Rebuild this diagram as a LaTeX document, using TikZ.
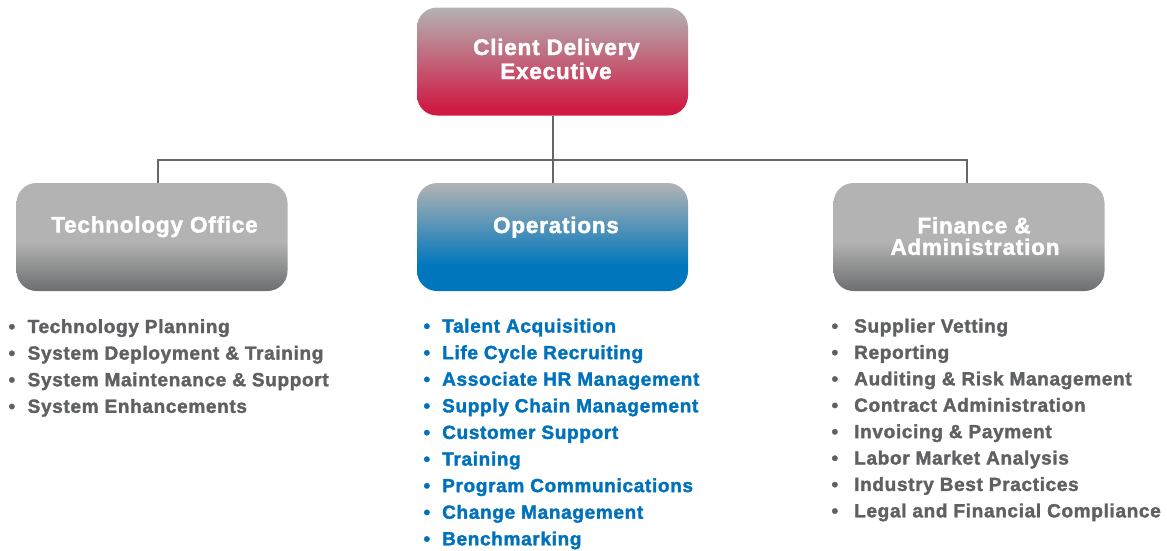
\documentclass[tikz,border=0pt]{standalone}
\usepackage{fontspec}
\setmainfont{Liberation Sans}[LetterSpace=3.5, BoldFeatures={FakeBold=1.8}]
\definecolor{lgray}{HTML}{B3B3B3}
\definecolor{dgray}{HTML}{6D6E70}
\definecolor{cred}{HTML}{CF1A43}
\definecolor{cblue}{HTML}{0077BD}
\definecolor{tgray}{HTML}{5F6062}
\definecolor{tblue}{HTML}{0071BB}
\definecolor{lcol}{HTML}{666666}
\pgfdeclareverticalshading{redsh}{100bp}{color(0bp)=(cred);color(28bp)=(cred);color(75bp)=(lgray);color(100bp)=(lgray)}
\pgfdeclareverticalshading{bluesh}{100bp}{color(0bp)=(cblue);color(37bp)=(cblue);color(75bp)=(lgray);color(100bp)=(lgray)}
\pgfdeclareverticalshading{graysh}{100bp}{color(0bp)=(dgray);color(25bp)=(dgray);color(48bp)=(lgray);color(100bp)=(lgray)}
\tikzset{
  boxst/.style={rounded corners=20pt, minimum width=271pt, minimum height=108pt, inner sep=0pt, draw=none},
  titlest/.style={anchor=base, inner sep=0pt, text=white, font=\fontsize{22.5}{22.5}\selectfont\bfseries},
  itemst/.style={anchor=base west, inner sep=0pt, font=\fontsize{19}{19}\selectfont\bfseries},
  conn/.style={draw=lcol, line width=2pt}
}
\begin{document}
\begin{tikzpicture}[x=1pt,y=-1pt]
\useasboundingbox (0,0) rectangle (1167,550);
% boxes
\node[boxst, shading=redsh] (cde) at (552.5,61.5) {};
\node[boxst, shading=graysh] (tech) at (152,237) {};
\node[boxst, shading=bluesh] (ops) at (552.5,237) {};
\node[boxst, shading=graysh] (fin) at (969,237) {};
% connectors
\coordinate (j) at (552.5,160);
\draw[conn] (cde.south) -- (ops.north);
\draw[conn] ([xshift=5.5pt]tech.north) -- ([xshift=5.5pt]tech.north |- j) -- ([xshift=-2pt]fin.north |- j) -- ([xshift=-2pt]fin.north);
% titles
\node[titlest] (cde1) at (556.5,55) {Client Delivery};
\node[titlest] (cde2) at (556,79) {Executive};
\node[titlest] (techt) at (154.5,232.5) {Technology Office};
\node[titlest] (opst) at (556,233) {Operations};
\node[titlest] (fint1) at (974,233.3) {Finance \&};
\node[titlest] (fint2) at (975,254.8) {Administration};
% lists
\foreach \t [count=\i from 0] in {Technology Planning, System Deployment \& Training, System Maintenance \& Support, System Enhancements}
  \node[itemst, text=tgray] (ta\i) at (27.5,333+26.6*\i) {\llap{\textbullet\hspace{12.5pt}}\t};
\foreach \t [count=\i from 0] in {Talent Acquisition, Life Cycle Recruiting, Associate HR Management, Supply Chain Management, Customer Support, Training, Program Communications, Change Management, Benchmarking}
  \node[itemst, text=tblue] (oa\i) at (442,332.5+26.6*\i) {\llap{\textbullet\hspace{12pt}}\t};
\foreach \t [count=\i from 0] in {Supplier Vetting, Reporting, Auditing \& Risk Management, Contract Administration, Invoicing \& Payment, Labor Market Analysis, Industry Best Practices, Legal and Financial Compliance}
  \node[itemst, text=tgray] (fa\i) at (854,332.5+26.4*\i) {\llap{\textbullet\hspace{16pt}}\t};
\end{tikzpicture}
\end{document}
